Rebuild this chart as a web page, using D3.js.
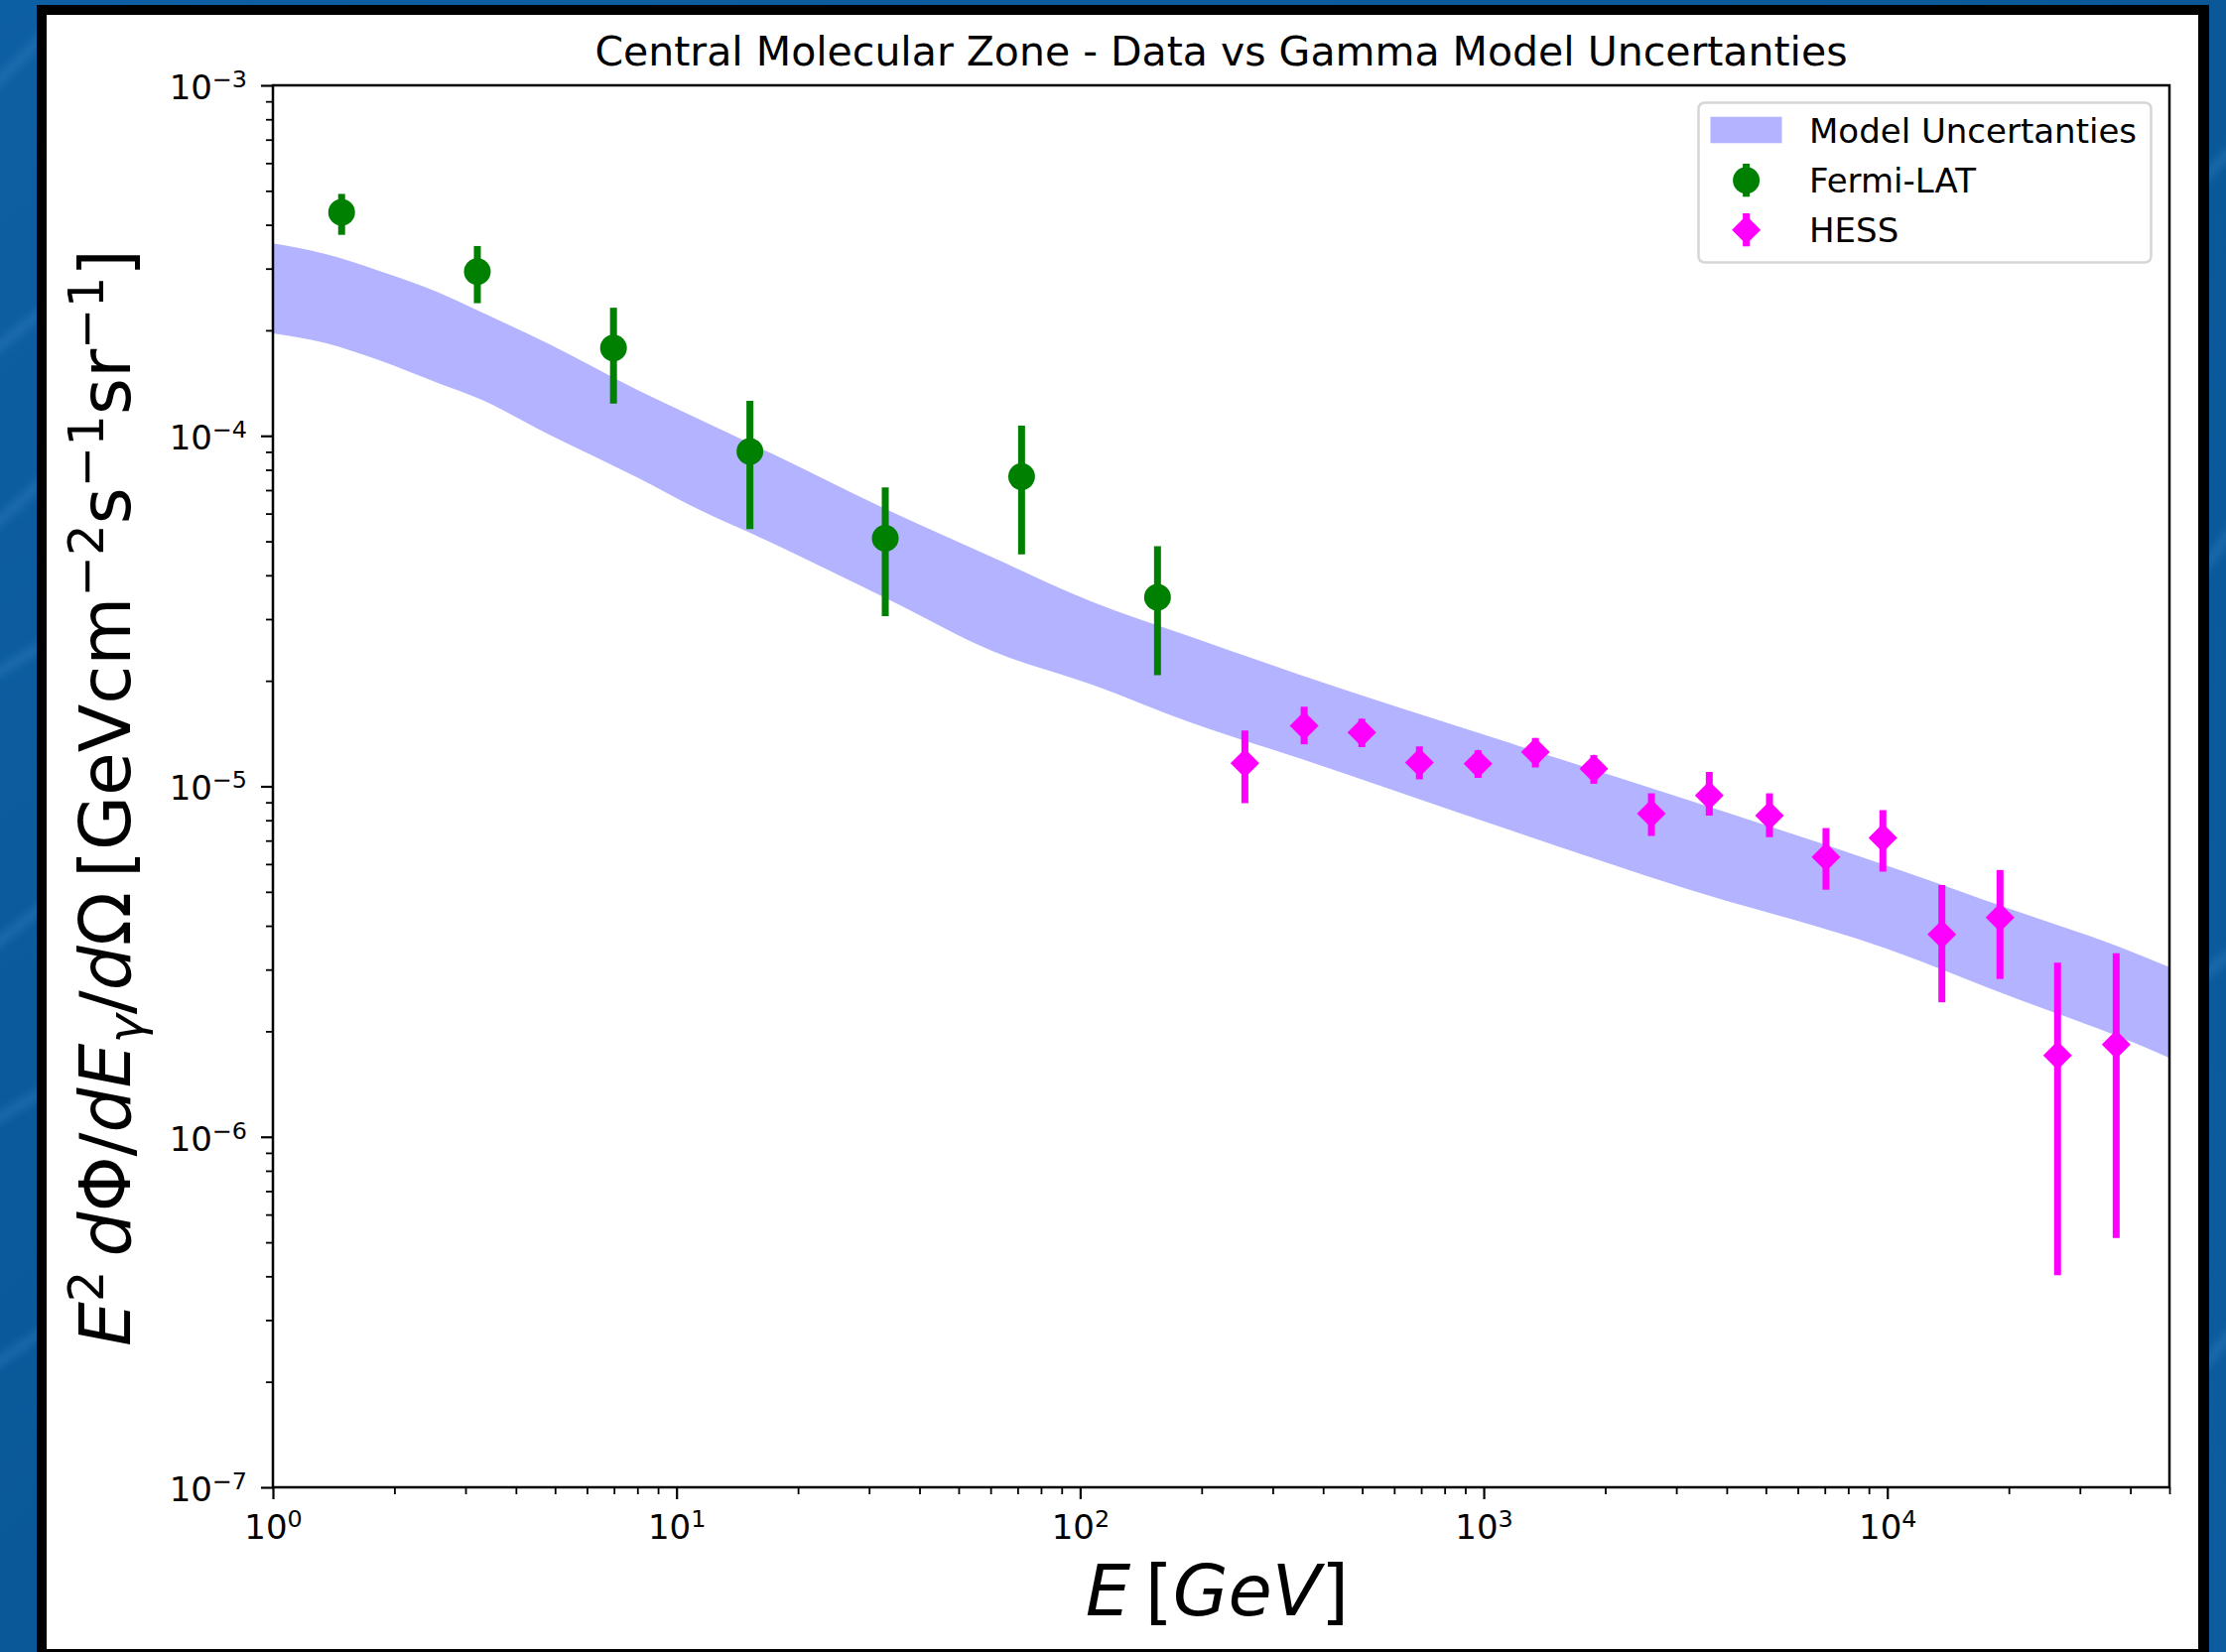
<!DOCTYPE html>
<html>
<head>
<meta charset="utf-8">
<script src="https://cdn.jsdelivr.net/npm/d3@7"></script>
<style>
  html, body { margin: 0; padding: 0; background: #0b5b9f; }
  svg { display: block; }
  text { font-family: "DejaVu Sans", sans-serif; fill: #000; }
</style>
</head>
<body>
<svg id="fig" width="2243" height="1665"></svg>
<script>
// ---- Data ----------------------------------------------------------------
// Fermi-LAT points: energy [GeV], E^2 dPhi/dE [GeV cm^-2 s^-1 sr^-1], error bar ends
const fermiE    = [1.48, 3.21, 6.98, 15.2, 32.9, 71.6, 155.5];
const fermiFlux = [4.34e-4, 2.94e-4, 1.78e-4, 9.02e-5, 5.10e-5, 7.65e-5, 3.46e-5];
const fermiHi   = [4.90e-4, 3.48e-4, 2.32e-4, 1.258e-4, 7.13e-5, 1.069e-4, 4.84e-5];
const fermiLo   = [3.745e-4, 2.39e-4, 1.236e-4, 5.42e-5, 3.06e-5, 4.59e-5, 2.075e-5];

// HESS points
const hessE    = [256, 359, 499, 693, 968, 1343, 1874, 2603, 3621, 5105, 7047, 9750, 13650, 19020, 26410, 36900];
const hessFlux = [1.164e-5, 1.488e-5, 1.425e-5, 1.169e-5, 1.159e-5, 1.253e-5, 1.122e-5, 8.36e-6,
                  9.42e-6, 8.25e-6, 6.29e-6, 7.13e-6, 3.78e-6, 4.22e-6, 1.706e-6, 1.832e-6];
const hessHi   = [1.443e-5, 1.687e-5, 1.558e-5, 1.30e-5, 1.267e-5, 1.374e-5, 1.227e-5, 9.55e-6,
                  1.099e-5, 9.55e-6, 7.60e-6, 8.55e-6, 5.23e-6, 5.77e-6, 3.14e-6, 3.34e-6];
const hessLo   = [8.95e-6, 1.318e-5, 1.294e-5, 1.047e-5, 1.057e-5, 1.132e-5, 1.017e-5, 7.22e-6,
                  8.25e-6, 7.16e-6, 5.07e-6, 5.71e-6, 2.42e-6, 2.82e-6, 4.03e-7, 5.14e-7];

// Gamma-ray model uncertainty band (upper / lower envelope)
const bandE  = [1, 1.35, 1.84, 2.58, 3.24, 4.82, 8.02, 11.1, 17.1, 34.4, 60.7, 107, 188, 351,
                1150, 3150, 9900, 21050, 37100, 50000];
const bandHi = [3.54e-4, 3.30e-4, 2.95e-4, 2.56e-4, 2.27e-4, 1.83e-4, 1.35e-4, 1.13e-4, 8.93e-5,
                6.04e-5, 4.50e-5, 3.36e-5, 2.67e-5, 2.08e-5, 1.334e-5, 9.2e-6, 5.96e-6, 4.39e-6,
                3.50e-6, 3.05e-6];
const bandLo = [1.96e-4, 1.84e-4, 1.64e-4, 1.41e-4, 1.277e-4, 1.01e-4, 7.59e-5, 6.24e-5, 4.97e-5,
                3.36e-5, 2.43e-5, 1.95e-5, 1.52e-5, 1.20e-5, 7.53e-6, 5.12e-6, 3.45e-6, 2.47e-6,
                1.94e-6, 1.68e-6];

// Axis ranges and decade tick exponents
const xDomain = [1, 5e4];
const yDomain = [1e-7, 1e-3];
const xTickExps = [0, 1, 2, 3, 4];
const yTickExps = [-7, -6, -5, -4, -3];

const titleText = "Central Molecular Zone - Data vs Gamma Model Uncertanties";
const legendLabels = ["Model Uncertanties", "Fermi-LAT", "HESS"];

// ---- Layout --------------------------------------------------------------
const svg = d3.select("#fig");
const W = 2243, H = 1665;
const plot = { left: 275, right: 2186, top: 86, bottom: 1499 };

const colBand = "#b3b3ff", colFermi = "#008000", colHess = "#ff00ff";

// Slide-style background with soft streaks
const defs = svg.append("defs");
const grad = defs.append("linearGradient").attr("id", "bg").attr("x1", 0).attr("y1", 0).attr("x2", 1).attr("y2", 1);
grad.append("stop").attr("offset", 0).attr("stop-color", "#0d5fa3");
grad.append("stop").attr("offset", 0.5).attr("stop-color", "#0a5898");
grad.append("stop").attr("offset", 1).attr("stop-color", "#0c5c9f");
defs.append("filter").attr("id", "soft").append("feGaussianBlur").attr("stdDeviation", 4);
svg.append("rect").attr("width", W).attr("height", H).attr("fill", "url(#bg)");
const streaks = svg.append("g").attr("filter", "url(#soft)").attr("stroke", "#3f8fcf").attr("stroke-opacity", 0.3).attr("fill", "none");
[[-40, 120, 60, 20], [-40, 380, 60, 300], [-40, 560, 60, 470], [-40, 700, 60, 640], [-40, 980, 60, 900],
 [-40, 1150, 60, 1090], [-40, 1400, 60, 1330], [2200, 200, 2260, 140], [2200, 600, 2260, 520],
 [2200, 1000, 2260, 950], [2200, 1400, 2260, 1330]].forEach(s =>
  streaks.append("line").attr("x1", s[0]).attr("y1", s[1]).attr("x2", s[2]).attr("y2", s[3]).attr("stroke-width", 10));

// Figure frame
svg.append("rect").attr("x", 37).attr("y", 5).attr("width", 2189).attr("height", 1670).attr("fill", "#000");
svg.append("rect").attr("x", 47).attr("y", 15).attr("width", 2168).attr("height", 1647).attr("fill", "#fff");

// ---- Scales ----------------------------------------------------------------
const x = d3.scaleLog().domain(xDomain).range([plot.left, plot.right]);
const y = d3.scaleLog().domain(yDomain).range([plot.bottom, plot.top]);

defs.append("clipPath").attr("id", "plotclip").append("rect")
  .attr("x", plot.left).attr("y", plot.top)
  .attr("width", plot.right - plot.left).attr("height", plot.bottom - plot.top);

// ---- Model band ---------------------------------------------------------------
const bandData = bandE.map((e, i) => ({ e, hi: bandHi[i], lo: bandLo[i] }));
svg.append("path")
  .datum(bandData)
  .attr("clip-path", "url(#plotclip)")
  .attr("fill", colBand)
  .attr("d", d3.area().curve(d3.curveMonotoneX)
    .x(d => x(d.e)).y0(d => y(d.lo)).y1(d => y(d.hi)));

// ---- Error bars and markers ---------------------------------------------------
const fermi = fermiE.map((e, i) => ({ e, v: fermiFlux[i], hi: fermiHi[i], lo: fermiLo[i] }));
const hess = hessE.map((e, i) => ({ e, v: hessFlux[i], hi: hessHi[i], lo: hessLo[i] }));

const gData = svg.append("g").attr("clip-path", "url(#plotclip)");
function errorBars(data, color) {
  gData.append("g").selectAll("line").data(data).join("line")
    .attr("x1", d => x(d.e)).attr("x2", d => x(d.e))
    .attr("y1", d => y(d.hi)).attr("y2", d => y(d.lo))
    .attr("stroke", color).attr("stroke-width", 7);
}
const circleSym = d3.symbol().type(d3.symbolCircle).size(Math.PI * 13.5 * 13.5);
const diamondPath = r => `M0,${-r}L${r},0L0,${r}L${-r},0Z`;

errorBars(fermi, colFermi);
gData.append("g").selectAll("path").data(fermi).join("path")
  .attr("transform", d => `translate(${x(d.e)},${y(d.v)})`)
  .attr("d", circleSym()).attr("fill", colFermi);

errorBars(hess, colHess);
gData.append("g").selectAll("path").data(hess).join("path")
  .attr("transform", d => `translate(${x(d.e)},${y(d.v)})`)
  .attr("d", diamondPath(14.5)).attr("fill", colHess);

// ---- Axes -------------------------------------------------------------------
const tickFont = 34;
function minorValues(domain) {
  const out = [];
  const lo = Math.floor(Math.log10(domain[0])), hi = Math.ceil(Math.log10(domain[1]));
  for (let p = lo; p < hi; p++)
    for (let k = 2; k <= 9; k++) {
      const v = k * Math.pow(10, p);
      if (v > domain[0] && v <= domain[1] * 1.0001) out.push(v);
    }
  return out;
}
function powerLabel(sel, exp) {
  sel.text(null);
  sel.append("tspan").text("10");
  sel.append("tspan").attr("font-size", tickFont * 0.7).attr("dy", -12)
    .text(exp < 0 ? "\u2212" + Math.abs(exp) : String(exp));
}

// x axis
const xMajor = xTickExps.map(p => Math.pow(10, p));
const gx = svg.append("g").attr("transform", `translate(0,${plot.bottom})`);
gx.call(d3.axisBottom(x).tickValues(minorValues(xDomain)).tickSize(7).tickFormat(""))
  .call(g => g.select(".domain").remove());
gx.selectAll(".tick line").attr("stroke", "#000").attr("stroke-width", 1.8);
const gxM = svg.append("g").attr("transform", `translate(0,${plot.bottom})`);
gxM.call(d3.axisBottom(x).tickValues(xMajor).tickSize(12).tickPadding(10))
  .call(g => g.select(".domain").remove());
gxM.selectAll(".tick line").attr("stroke", "#000").attr("stroke-width", 2.2);
gxM.selectAll(".tick text")
  .attr("font-family", "DejaVu Sans").attr("font-size", tickFont)
  .attr("dy", null).attr("y", 51.7)
  .each(function(d) { powerLabel(d3.select(this), Math.round(Math.log10(d))); });

// y axis
const yMajor = yTickExps.map(p => Math.pow(10, p));
const gy = svg.append("g").attr("transform", `translate(${plot.left},0)`);
gy.call(d3.axisLeft(y).tickValues(minorValues(yDomain)).tickSize(7).tickFormat(""))
  .call(g => g.select(".domain").remove());
gy.selectAll(".tick line").attr("stroke", "#000").attr("stroke-width", 1.8);
const gyM = svg.append("g").attr("transform", `translate(${plot.left},0)`);
gyM.call(d3.axisLeft(y).tickValues(yMajor).tickSize(12).tickPadding(12))
  .call(g => g.select(".domain").remove());
gyM.selectAll(".tick line").attr("stroke", "#000").attr("stroke-width", 2.2);
gyM.selectAll(".tick text")
  .attr("font-family", "DejaVu Sans").attr("font-size", tickFont)
  .attr("dy", null).attr("y", 13.3).attr("x", -26)
  .each(function(d) { powerLabel(d3.select(this), Math.round(Math.log10(d))); });

// Spines
svg.append("rect")
  .attr("x", plot.left).attr("y", plot.top)
  .attr("width", plot.right - plot.left).attr("height", plot.bottom - plot.top)
  .attr("fill", "none").attr("stroke", "#000").attr("stroke-width", 2.5);

// ---- Titles ---------------------------------------------------------------------
svg.append("text")
  .attr("x", (plot.left + plot.right) / 2).attr("y", 66)
  .attr("text-anchor", "middle").attr("font-size", 41)
  .text(titleText);

// x label: E [GeV]
const xl = svg.append("text")
  .attr("x", (plot.left + plot.right) / 2 - 4).attr("y", 1628)
  .attr("text-anchor", "middle").attr("font-size", 72);
xl.append("tspan").attr("font-style", "italic").text("E");
xl.append("tspan").text("\u2009[");
xl.append("tspan").attr("font-style", "italic").text("GeV");
xl.append("tspan").text("]");

// y label: E^2 dPhi/dE_gamma/dOmega [GeV cm^-2 s^-1 sr^-1]
const labelFont = 71;
const yl = svg.append("text")
  .attr("transform", `translate(131,804) rotate(-90)`)
  .attr("text-anchor", "middle").attr("font-size", labelFont);
const sup = labelFont * 0.7, rise = 27, drop = 13;
yl.append("tspan").attr("font-style", "italic").text("E");
yl.append("tspan").attr("font-size", sup).attr("dy", -rise).text("2");
yl.append("tspan").attr("dy", rise).text("\u2009");
yl.append("tspan").attr("font-style", "italic").text("d");
yl.append("tspan").text("\u03A6/");
yl.append("tspan").attr("font-style", "italic").text("dE");
yl.append("tspan").attr("font-style", "italic").attr("font-size", sup).attr("dy", drop).text("\u03B3");
yl.append("tspan").attr("dy", -drop).text("/");
yl.append("tspan").attr("font-style", "italic").text("d");
yl.append("tspan").text("\u03A9\u2009[GeVcm");
yl.append("tspan").attr("font-size", sup).attr("dy", -rise).text("\u22122");
yl.append("tspan").attr("dy", rise).text("s");
yl.append("tspan").attr("font-size", sup).attr("dy", -rise).text("\u22121");
yl.append("tspan").attr("dy", rise).text("sr");
yl.append("tspan").attr("font-size", sup).attr("dy", -rise).text("\u22121");
yl.append("tspan").attr("dy", rise).text("]");

// ---- Legend ---------------------------------------------------------------------------
const lg = svg.append("g");
lg.append("rect").attr("x", 1711.5).attr("y", 103.5).attr("width", 456).attr("height", 161)
  .attr("rx", 6).attr("fill", "#fff").attr("stroke", "#d6d6d6").attr("stroke-width", 2.5);
const rowBase = [143.5, 194.3, 244.3];
lg.append("rect").attr("x", 1723.5).attr("y", 117.7).attr("width", 72).attr("height", 26.6).attr("fill", colBand);
// Fermi entry
lg.append("line").attr("x1", 1759.6).attr("x2", 1759.6).attr("y1", 165).attr("y2", 198.3)
  .attr("stroke", colFermi).attr("stroke-width", 7);
lg.append("path").attr("transform", "translate(1759.6,181.7)").attr("d", circleSym()).attr("fill", colFermi);
// HESS entry
lg.append("line").attr("x1", 1759.6).attr("x2", 1759.6).attr("y1", 215).attr("y2", 248.3)
  .attr("stroke", colHess).attr("stroke-width", 7);
lg.append("path").attr("transform", "translate(1759.6,231.7)").attr("d", diamondPath(14.5)).attr("fill", colHess);
legendLabels.forEach((t, i) =>
  lg.append("text").attr("x", 1823).attr("y", rowBase[i]).attr("font-size", 34).text(t));
</script>
</body>
</html>
